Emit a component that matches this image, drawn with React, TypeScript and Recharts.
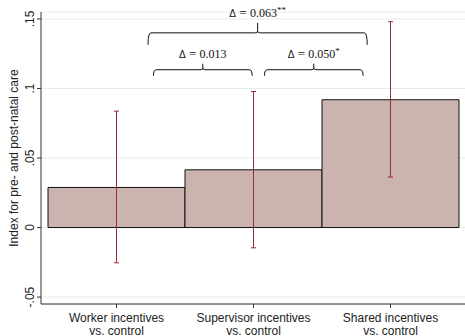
import { Bar, BarChart, CartesianGrid, ErrorBar, ReferenceLine, XAxis, YAxis } from "recharts";

const CATEGORIES = [
  "Worker incentives\nvs. control",
  "Supervisor incentives\nvs. control",
  "Shared incentives\nvs. control",
];
const MEANS = [0.0288, 0.0415, 0.0919];
const CI_LOW = [-0.0254, -0.0146, 0.0363];
const CI_HIGH = [0.0837, 0.0978, 0.148];

const Y_TICKS = [-0.05, 0, 0.05, 0.1, 0.15];
const Y_TICK_LABELS = ["-.05", "0", ".05", ".1", ".15"];

// pairwise differences shown as braces over the bars
const DIFF_TEXT = ["0.013", "0.050", "0.063"];
const DIFF_STARS = ["", "*", "**"];
const DIFF_FROM = [0.77, 1.58, 0.73];
const DIFF_TO = [1.49, 2.3, 2.33];
const DIFF_LEVEL = [0.1135, 0.1135, 0.14];

const FILL = "#cbb4b0";
const CI_RED = "#9b2c37";
const GRID = "#e4ecec";
const AXIS = "#333";
const SANS = "'Liberation Sans', Arial, sans-serif";
const SERIF = "'Liberation Serif', 'Times New Roman', serif";

const PAD = { left: 7, right: 6 };

const data = CATEGORIES.map((name, i) => ({
  name,
  pos: i + 0.5,
  mean: MEANS[i],
  err: [MEANS[i] - CI_LOW[i], CI_HIGH[i] - MEANS[i]],
}));

function YTick({ x, y, payload }: any) {
  const idx = Y_TICKS.indexOf(payload.value);
  const tx = x - 3;
  return (
    <text
      x={tx}
      y={y}
      transform={`rotate(-90 ${tx} ${y})`}
      textAnchor="middle"
      fontSize={12}
      fontFamily={SANS}
      fill="#222"
    >
      {idx >= 0 ? Y_TICK_LABELS[idx] : payload.value}
    </text>
  );
}

function XTick({ x, y, payload }: any) {
  const lines = String(payload.value).split("\n");
  return (
    <text x={x} y={y} textAnchor="middle" fontSize={12} fontFamily={SANS} fill="#222">
      {lines.map((l, i) => (
        <tspan key={i} x={x} dy={i === 0 ? 12 : 12.5}>
          {l}
        </tspan>
      ))}
    </text>
  );
}

function Brace({ x1, x2, y1, drop, rise, text, stars }: any) {
  const y = y1;
  const m = (x1 + x2) / 2;
  const r = 3;
  const d =
    `M${x1},${y + drop} Q${x1},${y} ${x1 + r},${y} L${m - 2},${y} Q${m},${y} ${m},${y - 2} L${m},${y - rise}` +
    ` M${m},${y - 2} Q${m},${y} ${m + 2},${y} L${x2 - r},${y} Q${x2},${y} ${x2},${y + drop}`;
  return (
    <g>
      <path d={d} fill="none" stroke="#111" strokeWidth={1} />
      <text x={m} y={y - rise - 6} textAnchor="middle" fontSize={12} fontFamily={SERIF} fill="#111">
        <tspan fontSize={10} fontFamily={SANS}>Δ</tspan>
        <tspan fontSize={13}>{" = "}</tspan>
        {text}
        {stars ? (
          <tspan fontSize={9} dy={-4}>
            {stars}
          </tspan>
        ) : null}
      </text>
    </g>
  );
}

export default function App() {
  return (
    <div style={{ position: "absolute", left: 0, top: 0, background: "#fff" }}>
      <style>{`body{margin:0}`}</style>
      <BarChart
        width={465}
        height={336}
        data={data}
        barCategoryGap={0}
        margin={{ top: 12, right: 0, bottom: 0, left: 8 }}
      >
        <CartesianGrid vertical={false} stroke={GRID} />
        <XAxis
          dataKey="name"
          padding={PAD}
          height={32}
          stroke={AXIS}
          tickSize={4}
          tickMargin={2}
          tick={<XTick />}
          interval={0}
        />
        <XAxis
          xAxisId="n"
          dataKey="pos"
          type="number"
          domain={[0, 3]}
          allowDataOverflow
          padding={PAD}
          hide
        />
        <YAxis
          domain={[-0.055, 0.155]}
          ticks={Y_TICKS}
          width={33}
          stroke={AXIS}
          tickSize={4}
          tickMargin={0}
          tick={<YTick />}
          label={{
            value: "Index for pre- and post-natal care",
            angle: -90,
            position: "center",
            dx: -11,
            fontSize: 12,
            fontFamily: SANS,
            fill: "#222",
          }}
        />
        <Bar dataKey="mean" fill={FILL} stroke="#111" strokeWidth={1} isAnimationActive={false}>
          <ErrorBar dataKey="err" direction="y" width={2.5} stroke={CI_RED} strokeWidth={1} isAnimationActive={false} />
        </Bar>
        {DIFF_TEXT.map((t, i) => (
          <ReferenceLine
            key={t}
            xAxisId="n"
            ifOverflow="visible"
            segment={[
              { x: DIFF_FROM[i], y: DIFF_LEVEL[i] },
              { x: DIFF_TO[i], y: DIFF_LEVEL[i] },
            ]}
            shape={(p: any) => (
              <Brace
                {...p}
                drop={i === 2 ? 12 : 6}
                rise={i === 2 ? 10 : 6}
                text={t}
                stars={DIFF_STARS[i]}
              />
            )}
          />
        ))}
      </BarChart>
    </div>
  );
}
